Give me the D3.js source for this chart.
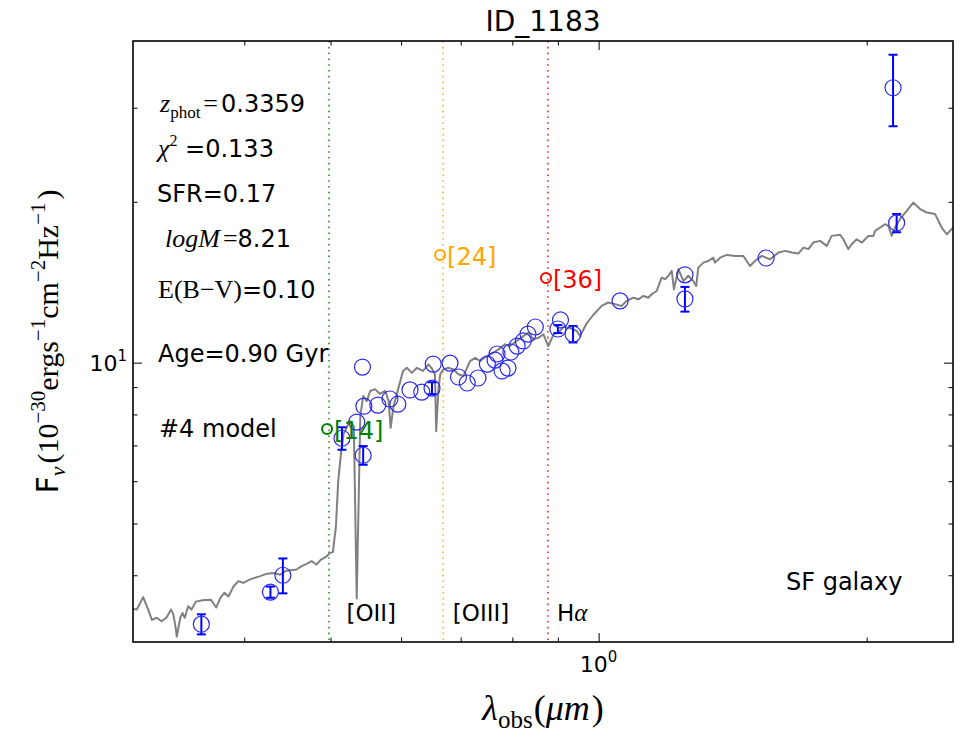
<!DOCTYPE html>
<html>
<head>
<meta charset="utf-8">
<script src="https://cdn.jsdelivr.net/npm/d3@7"></script>
<style>
  body { margin: 0; background: #fff; }
  text { font-family: "DejaVu Sans", sans-serif; fill: #000; }
</style>
</head>
<body>
<div id="chart"></div>
<script>
// ---------------- DATA ----------------
// best-fit model spectrum (wavelength in micron, flux in 1e-30 erg/s/cm2/Hz)
const modelLam = [
  0.300, 0.303, 0.308, 0.312, 0.315, 0.319, 0.323, 0.327, 0.331, 0.333,
  0.335, 0.336, 0.339, 0.341, 0.343, 0.346, 0.349, 0.353, 0.359, 0.367,
  0.372, 0.376, 0.380, 0.384, 0.389, 0.394, 0.399, 0.406, 0.416, 0.423,
  0.431, 0.439, 0.446, 0.458, 0.464, 0.470, 0.476, 0.482, 0.488, 0.495,
  0.499, 0.503, 0.507, 0.510, 0.514, 0.517, 0.522, 0.526, 0.531, 0.535,
  0.540, 0.544, 0.549, 0.554, 0.561, 0.568, 0.576, 0.581, 0.584, 0.588,
  0.596, 0.603, 0.609, 0.617, 0.625, 0.635, 0.644, 0.649, 0.655, 0.657,
  0.661, 0.664, 0.669, 0.678, 0.687, 0.696, 0.705, 0.717, 0.727, 0.736,
  0.749, 0.762, 0.772, 0.785, 0.795, 0.809, 0.823, 0.834, 0.845, 0.856,
  0.867, 0.878, 0.890, 0.901, 0.913, 0.929, 0.945, 0.953, 0.970, 0.986,
  1.008, 1.025, 1.043, 1.061, 1.075, 1.094, 1.108, 1.123, 1.137, 1.147,
  1.162, 1.177, 1.187, 1.198, 1.208, 1.215, 1.229, 1.245, 1.261, 1.277,
  1.287, 1.294, 1.311, 1.328, 1.345, 1.351, 1.369, 1.393, 1.423, 1.454,
  1.479, 1.498, 1.525, 1.558, 1.592, 1.620, 1.648, 1.676, 1.698, 1.720,
  1.742, 1.773, 1.804, 1.827, 1.867, 1.883, 1.907, 1.924, 1.949, 1.975,
  1.992, 2.009, 2.035, 2.044, 2.070, 2.097, 2.115, 2.134, 2.152, 2.180,
  2.218, 2.256, 2.296, 2.336, 2.387, 2.428, 2.460, 2.481, 2.502
];
const modelFlux = [
  3.46, 3.45, 3.64, 3.45, 3.30, 3.33, 3.28, 3.33, 3.45, 3.38,
  3.19, 3.07, 3.33, 3.40, 3.33, 3.50, 3.45, 3.57, 3.59, 3.60,
  3.48, 3.63, 3.71, 3.65, 3.81, 3.90, 3.87, 3.93, 3.98, 4.02,
  4.04, 4.01, 4.08, 4.10, 4.16, 4.20, 4.25, 4.19, 4.28, 4.34,
  4.40, 4.42, 4.94, 6.00, 6.83, 7.35, 7.60, 7.77, 7.60, 3.62,
  7.94, 8.66, 8.47, 8.85, 8.92, 8.74, 8.85, 8.47, 7.55, 8.23,
  8.97, 9.65, 9.78, 9.57, 9.78, 9.65, 9.93, 9.78, 9.51, 7.44,
  8.97, 9.51, 9.71, 9.78, 9.71, 9.51, 9.44, 10.07, 10.21, 10.07,
  10.29, 10.44, 10.59, 10.82, 10.74, 10.98, 11.21, 11.38, 11.06, 11.13,
  11.30, 10.74, 11.30, 11.38, 11.66, 11.61, 11.46, 11.21, 11.86, 12.28,
  12.77, 12.96, 12.87, 12.77, 13.05, 13.23, 13.14, 13.33, 13.23, 13.43,
  13.62, 14.43, 14.33, 14.54, 14.85, 13.72, 14.96, 14.22, 14.54, 14.22,
  13.92, 15.06, 15.39, 15.50, 15.72, 15.39, 15.72, 15.91, 15.84, 15.84,
  15.17, 15.50, 15.84, 15.61, 16.07, 16.19, 16.07, 16.00, 16.42, 16.31,
  16.78, 16.90, 16.54, 17.27, 17.35, 17.02, 16.31, 16.66, 17.02, 16.78,
  17.02, 17.27, 17.27, 17.65, 17.90, 18.16, 18.03, 17.27, 17.90, 18.56,
  19.24, 19.94, 19.39, 19.10, 18.97, 17.90, 17.39, 17.65, 17.90
];

// observed photometry
const obsLam = [0.358, 0.428, 0.442, 0.515, 0.535, 0.543, 0.544, 0.545, 0.565, 0.583,
                0.595, 0.614, 0.633, 0.650, 0.652, 0.681, 0.696, 0.712, 0.732, 0.750,
                0.765, 0.769, 0.779, 0.791, 0.797, 0.810, 0.823, 0.833, 0.849, 0.906,
                0.900, 0.936, 1.057, 1.250, 1.250, 1.542, 2.161, 2.141];
const obsFlux = [3.24, 3.72, 4.00, 7.22, 7.74, 9.81, 6.71, 8.29, 8.33, 8.55,
                 8.36, 8.89, 8.81, 8.96, 9.94, 9.98, 9.40, 9.16, 9.36, 9.94,
                 10.11, 10.38, 9.65, 9.77, 10.47, 10.74, 10.98, 11.31, 11.66, 12.02,
                 11.56, 11.31, 13.05, 14.60, 13.16, 15.70, 18.26, 32.7];
const obsErr = [0.14, 0.09, 0.30, 0.35, 0, 0, 0.27, 0, 0, 0,
                0, 0, 0, 0.23, 0, 0, 0, 0, 0, 0,
                0, 0, 0, 0, 0, 0, 0, 0, 0, 0,
                0.20, 0.40, 0, 0, 0.70, 0, 0.72, 5.0];

// emission lines at z_phot
const lineNames = ["[OII]", "[OIII]", "H"];
const lineLam = [0.498, 0.669, 0.877];
const lineColors = ["#008000", "#ffa500", "#ff0000"];
const lineLabelLam = [0.521, 0.686, 0.898];
const lineLabelFlux = 3.29;

// line flux markers
const limLam = [0.4955, 0.6636, 0.8727];
const limFlux = [7.51, 15.91, 14.40];
const limText = ["[14]", "[24]", "[36]"];

const xMajor = [1];
const xMinor = [0.4, 0.5, 0.6, 0.7, 0.8, 0.9, 2];
const yMajor = [10];
const yMinor = [4, 5, 6, 7, 8, 9, 20, 30];

// ---------------- LAYOUT ----------------
const W = 961, H = 741;
const m = {top: 41, right: 8, bottom: 99, left: 133};
const iw = W - m.left - m.right, ih = H - m.top - m.bottom;
const SANS = "DejaVu Sans", SERIF = "Liberation Serif";

const svg = d3.select("#chart").append("svg").attr("width", W).attr("height", H);
const g = svg.append("g").attr("transform", `translate(${m.left},${m.top})`);

const x = d3.scaleLog().domain([0.3, 2.5]).range([0, iw]);
const y = d3.scaleLog().domain([3, 40]).range([ih, 0]);

g.append("clipPath").attr("id", "clip")
  .append("rect").attr("width", iw).attr("height", ih);

// ticks, all pointing inward
function ticks(axis, vals, size, tr) {
  const a = g.append("g").attr("transform", tr || null)
    .call(axis.tickValues(vals).tickSize(-size).tickFormat(""));
  a.select(".domain").remove();
  a.selectAll(".tick line").attr("stroke", "#000").attr("stroke-width", 1);
}
ticks(d3.axisBottom(x), xMajor, 9, `translate(0,${ih})`);
ticks(d3.axisBottom(x), xMinor, 4.5, `translate(0,${ih})`);
ticks(d3.axisTop(x), xMajor, 9);
ticks(d3.axisTop(x), xMinor, 4.5);
ticks(d3.axisLeft(y), yMajor, 9);
ticks(d3.axisLeft(y), yMinor, 4.5);
ticks(d3.axisRight(y), yMajor, 9, `translate(${iw},0)`);
ticks(d3.axisRight(y), yMinor, 4.5, `translate(${iw},0)`);

// mixed-font text helper
function rich(parent, px, py, size, parts, anchor) {
  const t = parent.append("text").attr("x", px).attr("y", py)
    .attr("font-size", size).attr("text-anchor", anchor || "start");
  parts.forEach(p => {
    t.append("tspan").text(p.t)
      .attr("font-family", p.f || SANS)
      .attr("font-style", p.i ? "italic" : null)
      .attr("font-size", p.s || null)
      .attr("dy", p.dy || null)
      .attr("dx", p.dx || null);
  });
  return t;
}

// tick labels
xMajor.forEach(v => rich(g, x(v), ih + 30, 22, [{t: "10"}, {t: "0", s: 15, dy: -10}], "middle"));
yMajor.forEach(v => rich(g, -6, y(v) + 8, 22, [{t: "10"}, {t: "1", s: 15, dy: -10}], "end"));

// emission line markers
lineLam.forEach((v, i) => {
  g.append("line").attr("x1", x(v)).attr("x2", x(v)).attr("y1", 0).attr("y2", ih)
    .attr("stroke", lineColors[i]).attr("stroke-width", 1.6)
    .attr("stroke-dasharray", "1.6,4.2").attr("opacity", 0.85);
});

// model spectrum
const model = modelLam.map((v, i) => [v, modelFlux[i]]);
g.append("path").datum(model)
  .attr("clip-path", "url(#clip)")
  .attr("fill", "none").attr("stroke", "#808080").attr("stroke-width", 2)
  .attr("stroke-linejoin", "round")
  .attr("d", d3.line().x(d => x(d[0])).y(d => y(d[1])));

// photometry with error bars
const obs = obsLam.map((v, i) => ({l: v, f: obsFlux[i], e: obsErr[i]}));
const eb = g.append("g").attr("stroke", "#0000ff").attr("stroke-width", 2);
obs.filter(d => d.e > 0).forEach(d => {
  const y0 = y(d.f - d.e), y1 = y(d.f + d.e), cx = x(d.l);
  eb.append("line").attr("x1", cx).attr("x2", cx).attr("y1", y0).attr("y2", y1);
  eb.append("line").attr("x1", cx - 4.5).attr("x2", cx + 4.5).attr("y1", y0).attr("y2", y0);
  eb.append("line").attr("x1", cx - 4.5).attr("x2", cx + 4.5).attr("y1", y1).attr("y2", y1);
});
g.append("g").selectAll("circle").data(obs).join("circle")
  .attr("cx", d => x(d.l)).attr("cy", d => y(d.f)).attr("r", 8)
  .attr("fill", "none").attr("stroke", "#2a2aee").attr("stroke-width", 1.2);

// line flux circles and labels
limLam.forEach((v, i) => {
  g.append("circle").attr("cx", x(v)).attr("cy", y(limFlux[i])).attr("r", 5)
    .attr("fill", "none").attr("stroke", lineColors[i]).attr("stroke-width", 2);
  g.append("text").attr("x", x(v) + 7).attr("y", y(limFlux[i]) + 10)
    .attr("font-size", 24).style("fill", lineColors[i]).text(limText[i]);
});

// line names
lineNames.forEach((n, i) => {
  const parts = i < 2 ? [{t: n}] : [{t: n}, {t: "α", f: SERIF, i: true, s: 25}];
  rich(g, x(lineLabelLam[i]), y(lineLabelFlux), 23, parts);
});

// fit summary
rich(svg, 160, 112, 24, [{t: "z", f: SERIF, i: true, s: 26}, {t: "phot", f: SERIF, s: 17, dy: 6},
  {t: "=", f: SERIF, s: 26, dy: -6, dx: 3}, {t: "0.3359", dx: 3}]);
rich(svg, 158, 157, 24, [{t: "χ", f: SERIF, i: true, s: 26}, {t: "2", f: SERIF, s: 16, dy: -11},
  {t: " =0.133", dy: 11}]);
rich(svg, 157, 202, 24, [{t: "SFR=0.17"}]);
rich(svg, 165, 247, 24, [{t: "logM", f: SERIF, i: true, s: 26}, {t: "=", f: SERIF, s: 26, dx: 3}, {t: "8.21"}]);
rich(svg, 158, 298, 24, [{t: "E(B−V)", f: SERIF, s: 26}, {t: "=0.10"}]);
rich(svg, 158, 362, 24, [{t: "Age=0.90 Gyr"}]);
rich(svg, 159, 437, 24, [{t: "#4 model"}]);
rich(svg, 786, 590, 24, [{t: "SF galaxy"}]);

// frame
g.append("rect").attr("width", iw).attr("height", ih)
  .attr("fill", "none").attr("stroke", "#000").attr("stroke-width", 1.6);

// title and axis labels
rich(svg, m.left + iw / 2, 31, 28, [{t: "ID_1183"}], "middle");
rich(svg, m.left + iw / 2, 720, 36, [
  {t: "λ", f: SERIF, i: true}, {t: "obs", f: SERIF, s: 25, dy: 8},
  {t: "(", f: SERIF, dy: -8, dx: 1}, {t: "μm", f: SERIF, i: true}, {t: ")", f: SERIF, dx: 2}], "middle");
rich(svg, 0, 0, 30, [
  {t: "F"}, {t: "ν", f: SERIF, i: true, s: 22, dy: 7},
  {t: "(10", f: SERIF, dy: -7, dx: 3}, {t: "−30", f: SERIF, s: 21, dy: -13},
  {t: "ergs", f: SERIF, dy: 13}, {t: "−1", f: SERIF, s: 21, dy: -13},
  {t: "cm", f: SERIF, dy: 13}, {t: "−2", f: SERIF, s: 21, dy: -13},
  {t: "Hz", f: SERIF, dy: 13}, {t: "−1", f: SERIF, s: 21, dy: -13},
  {t: ")", f: SERIF, dy: 13, dx: 3}], "middle")
  .attr("transform", `translate(58,${m.top + ih / 2}) rotate(-90)`);
</script>
</body>
</html>
